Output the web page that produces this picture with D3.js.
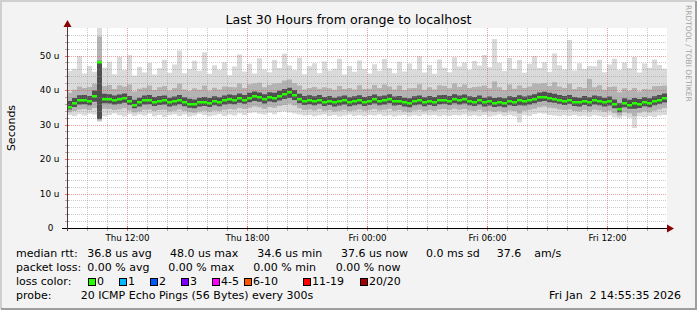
<!DOCTYPE html>
<html>
<head>
<meta charset="utf-8">
<script src="https://cdn.jsdelivr.net/npm/d3@7"></script>
<style>
  html, body { margin: 0; padding: 0; background: #f3f3f3; }
  svg { display: block; font-family: "DejaVu Sans", sans-serif; }
  text { white-space: pre; }
</style>
</head>
<body>
<svg id="chart" width="697" height="310"></svg>
<script>
// 15 minute buckets, Thu 09:00 -> Fri 15:00
var startTime = new Date(2026, 0, 1, 9, 0);
var endTime = new Date(2026, 0, 2, 15, 0);
var stepMinutes = 15;

// median rtt (us)
var medianRtt = [
    35.2,36.3,37.0,37.2,36.8,38.4,48.0,37.5,37.4,37.0,37.3,37.6,36.9,35.8,36.4,37.0,37.2,36.6,36.9,37.0,
    36.4,36.7,37.2,36.5,36.1,35.9,36.4,36.6,36.3,36.8,36.5,37.0,37.3,37.1,37.6,37.2,37.8,38.2,37.9,37.4,
    38.0,37.8,38.4,38.9,39.3,38.6,37.5,36.9,37.1,36.8,37.2,36.6,36.9,36.4,36.7,37.0,36.5,36.8,37.1,36.6,
    36.9,37.3,36.8,37.0,37.4,36.7,36.9,36.4,36.2,36.8,37.0,36.5,36.9,36.6,37.1,37.2,36.9,37.4,37.0,37.3,
    36.8,36.6,37.0,36.4,36.7,36.3,36.5,36.2,36.8,36.6,37.1,36.7,37.0,37.4,37.9,38.1,37.8,37.5,37.2,36.9,
    37.2,36.6,36.4,36.9,36.5,37.0,36.8,36.4,36.7,35.9,34.6,36.2,35.8,36.3,36.0,36.5,36.2,36.8,37.2,37.6
];
// slowest ping of each bucket
var pingMax = [
    45.5,46.2,49.8,44.8,47.0,45.3,58.0,46.5,48.2,44.6,49.6,45.8,50.1,44.2,46.7,45.1,47.9,44.5,46.3,48.8,
    45.0,47.4,51.5,44.9,46.1,48.5,45.6,51.0,44.7,47.2,45.9,48.1,44.3,46.8,50.3,45.4,47.6,44.8,49.2,46.0,
    45.2,48.7,46.4,50.5,47.1,45.8,49.4,44.6,46.9,47.8,44.9,48.3,45.7,46.2,49.1,44.5,47.0,45.3,48.6,46.1,
    44.8,47.5,45.6,49.0,46.3,44.9,48.2,45.4,47.7,46.0,49.8,45.1,47.3,44.7,48.9,46.5,45.2,49.5,46.8,48.0,
    45.9,48.4,47.1,50.2,46.6,54.8,47.9,45.5,49.3,46.2,48.7,45.0,47.6,49.9,46.4,48.1,45.3,50.6,47.2,46.0,
    54.5,45.7,47.8,46.1,47.0,46.9,48.8,45.2,47.4,49.1,45.8,48.0,46.3,49.6,45.1,47.7,46.5,48.9,47.3,46.2
];
// fastest ping of each bucket
var pingMin = [
    32.8,32.5,33.0,32.6,33.1,32.9,30.8,32.4,32.8,33.2,32.7,32.3,33.0,32.5,32.9,32.6,33.1,32.4,32.8,32.2,
    32.7,33.0,32.5,32.9,32.3,32.6,33.1,32.8,32.4,32.7,33.0,32.5,32.9,32.6,33.2,32.8,33.3,33.5,33.1,32.9,
    33.4,33.0,33.6,33.8,33.5,33.2,32.9,32.6,32.8,32.4,32.7,32.9,32.5,32.8,32.3,32.6,32.9,32.5,32.7,32.4,
    32.8,32.6,32.9,32.5,32.7,32.3,32.6,32.8,32.4,32.7,32.5,32.9,32.6,32.8,32.4,32.7,32.5,32.8,32.6,32.9,
    32.5,32.7,32.4,32.8,32.3,32.6,32.9,32.5,32.8,32.4,30.6,32.7,32.5,33.0,33.3,33.1,32.8,32.6,32.4,32.7,
    32.5,32.8,32.4,32.6,32.3,32.7,32.5,32.2,32.6,32.1,31.8,32.4,32.0,29.0,32.3,32.1,32.5,32.2,32.6,32.8
];
// middle smoke band
var smokeLow = [
    33.6,33.9,34.4,34.5,34.2,34.8,31.2,34.6,34.5,34.2,34.4,34.7,34.1,33.5,33.8,34.3,34.4,33.9,34.2,34.3,
    33.8,34.0,34.4,33.9,33.6,33.4,33.8,34.0,33.7,34.1,33.9,34.3,34.5,34.4,34.8,34.5,34.9,35.2,35.0,34.6,
    35.1,34.9,35.4,35.7,36.0,35.5,34.7,34.2,34.4,34.1,34.5,34.0,34.2,33.8,34.0,34.3,33.9,34.1,34.4,34.0,
    34.2,34.5,34.1,34.3,34.6,34.0,34.2,33.8,33.6,34.1,34.3,33.9,34.2,34.0,34.4,34.5,34.2,34.6,34.3,34.5,
    34.1,33.9,34.3,33.8,34.0,33.7,33.9,33.6,34.1,33.9,33.2,34.0,34.3,34.6,35.0,35.2,34.9,34.7,34.4,34.2,
    34.4,33.9,33.8,34.2,33.8,34.3,34.1,33.7,34.0,33.3,32.6,33.5,33.2,32.4,33.4,33.8,33.5,34.0,34.4,34.8
];
var smokeHigh = [
    39.2,40.1,41.0,40.6,40.9,41.8,55.5,41.2,41.5,40.3,41.4,41.0,41.6,39.6,40.4,40.7,41.3,40.0,40.8,41.2,
    39.9,40.6,41.8,40.2,39.7,40.5,40.1,41.3,39.8,40.7,40.2,41.0,40.9,40.8,41.9,40.6,41.7,41.9,42.1,40.8,
    41.5,41.9,42.0,42.8,43.1,42.0,41.3,40.2,40.6,40.9,40.4,40.8,40.5,40.1,41.2,40.3,40.6,40.2,41.4,40.3,
    40.4,41.5,40.6,41.6,41.0,40.2,41.3,40.0,40.5,40.6,41.7,40.1,40.8,40.2,41.4,41.2,40.5,41.9,40.9,41.6,
    40.6,40.9,41.0,41.3,40.5,42.5,40.8,40.0,41.6,40.4,41.3,40.6,41.0,41.9,41.8,42.0,41.2,42.3,41.0,40.6,
    41.8,40.3,40.9,40.6,43.2,40.8,41.4,40.1,40.9,41.0,39.4,40.5,39.8,40.6,39.6,40.3,40.2,41.1,41.2,41.3
];
// dark core around the median
var coreLow = [
    34.4,35.1,35.8,35.9,35.6,36.6,31.6,36.2,36.1,35.8,36.0,36.3,35.7,34.7,35.2,35.8,35.9,35.4,35.7,35.8,
    35.2,35.5,35.9,35.3,34.9,34.7,35.2,35.4,35.1,35.6,35.3,35.8,36.0,35.9,36.3,36.0,36.5,36.8,36.6,36.1,
    36.7,36.5,37.0,37.4,37.7,37.1,36.2,35.7,35.9,35.6,36.0,35.4,35.7,35.2,35.5,35.8,35.3,35.6,35.9,35.4,
    35.7,36.1,35.6,35.8,36.2,35.5,35.7,35.2,35.0,35.6,35.8,35.3,35.7,35.4,35.9,36.0,35.7,36.2,35.8,36.1,
    35.6,35.4,35.8,35.2,35.5,35.1,35.3,35.0,35.6,35.4,35.6,35.5,35.8,36.2,36.6,36.8,36.5,36.3,36.0,35.7,
    36.0,35.4,35.2,35.7,35.3,35.8,35.6,35.2,35.5,34.7,33.6,35.0,34.6,34.6,34.8,35.3,35.0,35.6,36.0,36.4
];
var coreHigh = [
    36.8,37.7,38.5,38.6,38.3,39.9,48.5,38.9,38.8,38.4,38.7,39.0,38.3,37.2,37.8,38.4,38.6,38.0,38.3,38.4,
    37.8,38.1,38.6,37.9,37.5,37.3,37.8,38.0,37.7,38.2,37.9,38.4,38.7,38.5,39.0,38.6,39.2,39.6,39.3,38.8,
    39.4,39.2,39.8,40.3,40.7,40.0,38.9,38.3,38.5,38.2,38.6,38.0,38.3,37.8,38.1,38.4,37.9,38.2,38.5,38.0,
    38.3,38.7,38.2,38.4,38.8,38.1,38.3,37.8,37.6,38.2,38.4,37.9,38.3,38.0,38.5,38.6,38.3,38.8,38.4,38.7,
    38.2,38.0,38.4,37.8,38.1,37.7,37.9,37.6,38.2,38.0,38.5,38.1,38.4,38.8,39.3,39.5,39.2,38.9,38.6,38.3,
    38.6,38.0,37.8,38.3,37.9,38.4,38.2,37.8,38.1,37.3,36.2,37.6,37.2,37.7,37.4,37.9,37.6,38.2,38.6,39.0
];

var xTickTimes = [new Date(2026, 0, 1, 12), new Date(2026, 0, 1, 18), new Date(2026, 0, 2, 0),
    new Date(2026, 0, 2, 6), new Date(2026, 0, 2, 12)];
var xTickLabels = ["Thu 12:00", "Thu 18:00", "Fri 00:00", "Fri 06:00", "Fri 12:00"];
var yTicks = [0, 10, 20, 30, 40, 50];
var yTickLabels = ["0", "10 u", "20 u", "30 u", "40 u", "50 u"];
var yMax = 58;

var rttLegend = ["36.8 us avg", "48.0 us max", "34.6 us min", "37.6 us now", "0.0 ms sd", "37.6", "am/s"];
var lossLegend = ["0.00 % avg", "0.00 % max", "0.00 % min", "0.00 % now"];
var lossLabels = ["0", "1", "2", "3", "4-5", "6-10", "11-19", "20/20"];
var lossColors = ["#26ff00", "#00b8ff", "#0059ff", "#7e00ff", "#ff00ff", "#ff5500", "#ff0000", "#a10000"];
var titleText = "Last 30 Hours from orange to localhost";
var probeText = "20 ICMP Echo Pings (56 Bytes) every 300s";
var stampText = "Fri Jan  2 14:55:35 2026";

var W = 697, H = 310;
var plot = {left: 67, right: 667, top: 28, bottom: 228};

var svg = d3.select("#chart");

var x = d3.scaleTime().domain([startTime, endTime]).range([plot.left, plot.right]);
var y = d3.scaleLinear().domain([0, yMax]).range([plot.bottom, plot.top]);

// background + 3d frame
svg.append("rect").attr("width", W).attr("height", H).attr("fill", "#f3f3f3");
svg.append("path").attr("d", "M1,309V1H696").attr("fill", "none").attr("stroke", "#cfcfcf").attr("stroke-width", 2);
svg.append("path").attr("d", "M1,309H696V1").attr("fill", "none").attr("stroke", "#9e9e9e").attr("stroke-width", 2);
svg.append("rect").attr("x", plot.left).attr("y", plot.top)
    .attr("width", plot.right - plot.left).attr("height", plot.bottom - plot.top).attr("fill", "#ffffff");

// rows for step areas, last value repeated at the end time
var rows = medianRtt.map(function (m, i) {
    return {
        t: d3.timeMinute.offset(startTime, i * stepMinutes), med: m,
        min: pingMin[i], max: pingMax[i], lo: smokeLow[i], hi: smokeHigh[i], cLo: coreLow[i], cHi: coreHigh[i]
    };
});
var stepRows = rows.concat([Object.assign({}, rows[rows.length - 1], {t: endTime})]);

var bands = [
    {lo: "min", hi: "max", color: "#dadada"},
    {lo: "lo", hi: "hi", color: "#b3b3b3"},
    {lo: "cLo", hi: "cHi", color: "#505050"}
];
var gSmoke = svg.append("g");
bands.forEach(function (b) {
    var area = d3.area().curve(d3.curveStepAfter)
        .x(function (d) { return x(d.t); })
        .y0(function (d) { return y(d[b.lo]); })
        .y1(function (d) { return y(d[b.hi]); });
    gSmoke.append("path").datum(stepRows).attr("d", area).attr("fill", b.color);
});

// grid on top of the smoke, like rrdtool
var gGrid = svg.append("g").attr("stroke-dasharray", "1,1").attr("stroke-width", 1);
var hours = d3.timeHour.range(d3.timeHour.offset(startTime, 1), endTime);
gGrid.selectAll(".vgrid").data(hours).enter().append("line")
    .attr("x1", function (d) { return Math.round(x(d)) + 0.5; })
    .attr("x2", function (d) { return Math.round(x(d)) + 0.5; })
    .attr("y1", plot.top).attr("y2", plot.bottom)
    .attr("stroke", function (d) { return d.getHours() % 6 === 0 ? "rgba(222,80,80,0.55)" : "rgba(140,140,140,0.45)"; });
var levels = d3.range(2, yMax, 2);
gGrid.selectAll(".hgrid").data(levels).enter().append("line")
    .attr("x1", plot.left).attr("x2", plot.right)
    .attr("y1", function (d) { return Math.round(y(d)) + 0.5; })
    .attr("y2", function (d) { return Math.round(y(d)) + 0.5; })
    .attr("stroke", function (d) { return d % 10 === 0 ? "rgba(222,80,80,0.55)" : "rgba(140,140,140,0.45)"; });

// median as short green dashes
svg.append("g").selectAll("rect").data(rows).enter().append("rect")
    .attr("x", function (d) { return x(d.t); })
    .attr("width", function (d) { return x(d3.timeMinute.offset(d.t, stepMinutes)) - x(d.t); })
    .attr("y", function (d) { return Math.round(y(d.med)) - 1; })
    .attr("height", 2.5)
    .attr("fill", lossColors[0]);

// ticks on the axes
var gTicks = svg.append("g").attr("stroke-width", 1);
gTicks.selectAll(".xt").data(hours).enter().append("line")
    .attr("x1", function (d) { return Math.round(x(d)) + 0.5; })
    .attr("x2", function (d) { return Math.round(x(d)) + 0.5; })
    .attr("y1", plot.bottom - 2).attr("y2", plot.bottom + 3)
    .attr("stroke", function (d) { return d.getHours() % 6 === 0 ? "rgba(222,80,80,0.8)" : "rgba(140,140,140,0.7)"; });
gTicks.selectAll(".yt").data(levels).enter().append("line")
    .attr("x1", plot.left - 2).attr("x2", plot.left + 2)
    .attr("y1", function (d) { return Math.round(y(d)) + 0.5; })
    .attr("y2", function (d) { return Math.round(y(d)) + 0.5; })
    .attr("stroke", function (d) { return d % 10 === 0 ? "rgba(222,80,80,0.8)" : "rgba(140,140,140,0.7)"; });

// axis lines + arrows
svg.append("line").attr("x1", 62).attr("x2", 670).attr("y1", plot.bottom + 0.5).attr("y2", plot.bottom + 0.5)
    .attr("stroke", "#000");
svg.append("line").attr("x1", plot.left + 0.5).attr("x2", plot.left + 0.5).attr("y1", plot.bottom + 3).attr("y2", 24)
    .attr("stroke", "#5a3434");
svg.append("path").attr("d", "M667,224.5L674,228.5L667,232.5Z").attr("fill", "#8b0000");
svg.append("path").attr("d", "M63.5,27L67.5,20L71.5,27Z").attr("fill", "#8b0000");

// axis labels through d3 axes
var xAxis = d3.axisBottom(x).tickValues(xTickTimes)
    .tickFormat(function (d, i) { return xTickLabels[i]; }).tickSize(0);
var gx = svg.append("g").attr("transform", "translate(0," + plot.bottom + ")").call(xAxis);
gx.select(".domain").remove();
gx.selectAll("text").attr("y", 12.5).attr("dy", null)
    .attr("font-family", "DejaVu Sans").attr("font-size", 8.7).attr("fill", "#000");

var yAxis = d3.axisLeft(y).tickValues(yTicks)
    .tickFormat(function (d, i) { return yTickLabels[i]; }).tickSize(0).tickPadding(0);
var gy = svg.append("g").attr("transform", "translate(59.5,0)").call(yAxis);
gy.select(".domain").remove();
gy.selectAll("text").attr("font-family", "DejaVu Sans").attr("font-size", 8.9).attr("fill", "#000")
    .attr("dx", function (d) { return d === 0 ? -6 : 0; });

// titles
svg.append("text").attr("x", W / 2).attr("y", 23.5).attr("text-anchor", "middle")
    .attr("font-size", 12.6).attr("fill", "#000").text(titleText);
svg.append("text").attr("transform", "translate(15,128) rotate(-90)").attr("text-anchor", "middle")
    .attr("font-size", 11).attr("fill", "#000").text("Seconds");
svg.append("text").attr("transform", "translate(686,5) rotate(90)")
    .attr("font-size", 7.5).attr("fill", "#a4a4a4").text("RRDTOOL / TOBI OETIKER");

// legend
var legend = svg.append("g").attr("font-size", 11).attr("fill", "#000");
var rowY = [257, 271, 285, 299];
var rttX = [87.3, 170, 257.3, 341, 426, 496.7, 534.3];
var lossX = [87.3, 168.3, 253.3, 335.8];
var boxX = [88.5, 119.5, 150.5, 181.5, 212.5, 244.5, 303.5, 360.5];

legend.append("text").attr("x", 16).attr("y", rowY[0]).text("median rtt:");
legend.selectAll(".rtt").data(rttLegend).enter().append("text")
    .attr("x", function (d, i) { return rttX[i]; }).attr("y", rowY[0]).text(function (d) { return d; });
legend.append("text").attr("x", 16).attr("y", rowY[1]).text("packet loss:");
legend.selectAll(".loss").data(lossLegend).enter().append("text")
    .attr("x", function (d, i) { return lossX[i]; }).attr("y", rowY[1]).text(function (d) { return d; });
legend.append("text").attr("x", 16).attr("y", rowY[2]).text("loss color:");
var items = legend.selectAll(".lc").data(lossLabels).enter().append("g");
items.append("rect")
    .attr("x", function (d, i) { return boxX[i]; }).attr("y", rowY[2] - 6.5)
    .attr("width", 7).attr("height", 7)
    .attr("fill", function (d, i) { return lossColors[i]; }).attr("stroke", "#000");
items.append("text")
    .attr("x", function (d, i) { return boxX[i] + 8.5; }).attr("y", rowY[2]).text(function (d) { return d; });
legend.append("text").attr("x", 16).attr("y", rowY[3]).text("probe:");
legend.append("text").attr("x", 80.7).attr("y", rowY[3]).text(probeText);
legend.append("text").attr("x", 681).attr("y", rowY[3]).attr("text-anchor", "end").text(stampText);
</script>
</body>
</html>
